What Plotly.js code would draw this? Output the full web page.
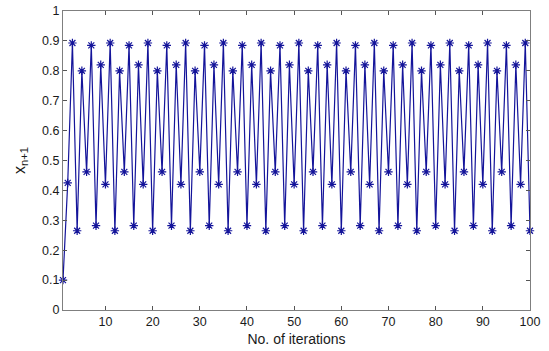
<!DOCTYPE html>
<html>
<head>
<meta charset="utf-8">
<script src="https://cdn.plot.ly/plotly-3.0.1.min.js"></script>
<style>html,body{margin:0;padding:0;background:#fff;}#chart{width:549px;height:351px;}</style>
</head>
<body>
<div id="chart"></div>
<script>
// Iteration number (x) and value x_{n+1} (y)
const iterations = [
  1, 2, 3, 4, 5, 6, 7, 8, 9, 10,
  11, 12, 13, 14, 15, 16, 17, 18, 19, 20,
  21, 22, 23, 24, 25, 26, 27, 28, 29, 30,
  31, 32, 33, 34, 35, 36, 37, 38, 39, 40,
  41, 42, 43, 44, 45, 46, 47, 48, 49, 50,
  51, 52, 53, 54, 55, 56, 57, 58, 59, 60,
  61, 62, 63, 64, 65, 66, 67, 68, 69, 70,
  71, 72, 73, 74, 75, 76, 77, 78, 79, 80,
  81, 82, 83, 84, 85, 86, 87, 88, 89, 90,
  91, 92, 93, 94, 95, 96, 97, 98, 99, 100
];
const values = [
  0.100, 0.425, 0.893, 0.265, 0.800, 0.462, 0.885, 0.282, 0.820, 0.420,
  0.893, 0.265, 0.800, 0.462, 0.885, 0.282, 0.820, 0.420, 0.893, 0.265,
  0.800, 0.462, 0.885, 0.282, 0.820, 0.420, 0.893, 0.265, 0.800, 0.462,
  0.885, 0.282, 0.820, 0.420, 0.893, 0.265, 0.800, 0.462, 0.885, 0.282,
  0.820, 0.420, 0.893, 0.265, 0.800, 0.462, 0.885, 0.282, 0.820, 0.420,
  0.893, 0.265, 0.800, 0.462, 0.885, 0.282, 0.820, 0.420, 0.893, 0.265,
  0.800, 0.462, 0.885, 0.282, 0.820, 0.420, 0.893, 0.265, 0.800, 0.462,
  0.885, 0.282, 0.820, 0.420, 0.893, 0.265, 0.800, 0.462, 0.885, 0.282,
  0.820, 0.420, 0.893, 0.265, 0.800, 0.462, 0.885, 0.282, 0.820, 0.420,
  0.893, 0.265, 0.800, 0.462, 0.885, 0.282, 0.820, 0.420, 0.893, 0.265
];
const xTicks = [10, 20, 30, 40, 50, 60, 70, 80, 90, 100];
const yTicks = [0, 0.1, 0.2, 0.3, 0.4, 0.5, 0.6, 0.7, 0.8, 0.9, 1];
const yTickText = ['0', '0.1', '0.2', '0.3', '0.4', '0.5', '0.6', '0.7', '0.8', '0.9', '1'];

const FONT = 'Liberation Sans, Arial, sans-serif';

const trace = {
  x: iterations,
  y: values,
  type: 'scatter',
  mode: 'lines+markers',
  line: {color: '#14149a', width: 1.2},
  marker: {symbol: 'asterisk-open', size: 7, color: '#14149a', line: {color: '#14149a', width: 1.2}},
  cliponaxis: false
};

const axisCommon = {
  showgrid: false,
  zeroline: false,
  showline: true,
  linecolor: '#7f7f7f',
  linewidth: 1,
  mirror: 'ticks',
  ticks: 'inside',
  ticklen: 4,
  tickcolor: '#555',
  tickfont: {family: FONT, size: 12.5, color: '#1a1a1a'}
};

const layout = {
  width: 549,
  height: 351,
  margin: {l: 63, r: 19, t: 11, b: 41},
  paper_bgcolor: '#fff',
  plot_bgcolor: '#fff',
  showlegend: false,
  xaxis: Object.assign({}, axisCommon, {
    range: [1, 100],
    tickvals: xTicks,
    title: {text: 'No. of iterations', font: {family: FONT, size: 14, color: '#1a1a1a'}, standoff: 6}
  }),
  yaxis: Object.assign({}, axisCommon, {
    range: [0, 1],
    tickvals: yTicks,
    ticktext: yTickText,
    title: {text: 'x<sub>n+1</sub>', font: {family: FONT, size: 16, color: '#1a1a1a'}, standoff: 12}
  })
};

Plotly.newPlot('chart', [trace], layout, {displayModeBar: false, staticPlot: true});
</script>
</body>
</html>
